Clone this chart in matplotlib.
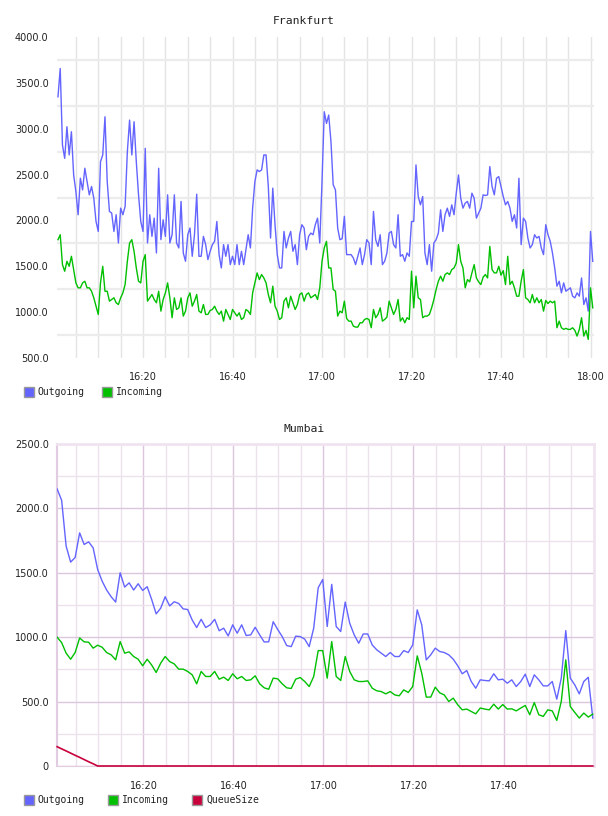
import matplotlib
matplotlib.use("Agg")
import matplotlib.pyplot as plt
from matplotlib.patches import Rectangle
import numpy as np

# ---------------- data ----------------
# time axis: minutes after 16:00
fra_start, fra_step = 1.0, 0.5          # Frankfurt samples every 30 s
mum_start, mum_step = 0.83, 1.0         # Mumbai samples every minute

fra_outgoing = [
    3348, 3656, 2822, 2677, 3022, 2714, 2967, 2496, 2315, 2062,
    2460, 2333, 2569, 2424, 2279, 2370, 2243, 1989, 1880, 2641,
    2714, 3130, 2424, 2098, 2080, 1880, 2062, 1754, 2134, 2062,
    2152, 2750, 3094, 2714, 3076, 2641, 2279, 1989, 1880, 2786,
    1754, 2062, 1826, 2025, 1645, 2569, 1790, 2007, 1826, 2279,
    1754, 1844, 2279, 1754, 1700, 2207, 1645, 1555, 1844, 1917,
    1609, 1844, 2286, 1609, 1609, 1826, 1736, 1573, 1663, 1736,
    1772, 1989, 1627, 1482, 1736, 1609, 1736, 1518, 1609, 1518,
    1736, 1518, 1663, 1518, 1681, 1844, 1700, 2134, 2424, 2551,
    2533, 2551, 2714, 2714, 2370, 1808, 2352, 1953, 1627, 1482,
    1482, 1880, 1700, 1808, 1880, 1663, 1736, 1518, 1844, 1953,
    1917, 1681, 1826, 1862, 1844, 1953, 2025, 1754, 2424, 3185,
    3058, 3149, 2859, 2388, 2333, 1917, 1790, 1800, 2044, 1627,
    1627, 1627, 1591, 1518, 1609, 1700, 1518, 1627, 1790, 1754,
    1518, 2098, 1790, 1717, 1844, 1518, 1555, 1645, 1862, 1880,
    1736, 1700, 2062, 1609, 1627, 1555, 1645, 1609, 1989, 1989,
    2605, 2261, 2170, 2261, 1645, 1518, 1736, 1446, 1754, 1790,
    1862, 2116, 1880, 2062, 2134, 2044, 2170, 2062, 2297, 2496,
    2243, 2134, 2189, 2207, 2134, 2297, 2243, 2025, 2080, 2134,
    2279, 2272, 2279, 2587, 2370, 2279, 2460, 2478, 2370, 2261,
    2170, 2207, 2134, 1989, 2062, 1917, 2460, 1736, 2025, 1989,
    1808, 1700, 1736, 1844, 1808, 1826, 1700, 1627, 1953, 1844,
    1772, 1645, 1482, 1283, 1337, 1210, 1319, 1228, 1247, 1265,
    1174, 1156, 1210, 1174, 1373, 1083, 1156, 1011, 1880, 1554,
]
fra_incoming = [
    1790, 1844, 1518, 1446, 1554, 1500, 1609, 1464, 1319, 1265,
    1265, 1319, 1337, 1265, 1265, 1228, 1156, 1065, 975, 1319,
    1500, 1228, 1228, 1120, 1138, 1156, 1102, 1083, 1156, 1210,
    1301, 1554, 1754, 1790, 1663, 1482, 1337, 1319, 1554, 1627,
    1120, 1156, 1192, 1138, 1102, 1228, 1011, 1138, 1210, 1319,
    1156, 939, 1156, 1029, 1047, 1156, 957, 1011, 1156, 1210,
    1065, 1120, 1192, 1011, 993, 1083, 975, 975, 1018, 1029,
    1065, 1011, 975, 1011, 902, 1029, 975, 920, 1029, 993,
    957, 993, 920, 939, 1029, 1011, 975, 1210, 1319, 1428,
    1355, 1410, 1373, 1319, 1192, 1102, 1283, 1065, 1011, 920,
    939, 1120, 1156, 1047, 1174, 1102, 1029, 1083, 1192, 1210,
    1120, 1192, 1210, 1156, 1174, 1192, 1138, 1265, 1554, 1700,
    1772, 1482, 1482, 1247, 1228, 957, 1011, 993, 1120, 931,
    902, 902, 848, 837, 837, 884, 884, 920, 931, 920,
    830, 1029, 939, 975, 1047, 902, 920, 945, 1120, 1047,
    975, 1029, 1138, 902, 939, 884, 939, 920, 1446, 1047,
    1392, 1156, 1138, 939, 957, 957, 975, 1047, 1138, 1247,
    1337, 1392, 1337, 1410, 1428, 1410, 1464, 1482, 1536, 1736,
    1554, 1482, 1265, 1355, 1330, 1428, 1518, 1373, 1330, 1301,
    1381, 1410, 1373, 1717, 1464, 1428, 1428, 1500, 1403, 1453,
    1301, 1609, 1301, 1337, 1265, 1174, 1174, 1337, 1464, 1156,
    1138, 1102, 1192, 1102, 1156, 1102, 1138, 1011, 1127, 1094,
    1120, 1102, 1120, 830, 902, 830, 812, 823, 812, 812,
    830, 801, 739, 812, 939, 739, 801, 703, 1265, 1047,
]

mum_outgoing = [
    2151, 2063, 1707, 1583, 1619, 1810, 1720, 1740, 1694, 1526,
    1435, 1366, 1314, 1273, 1500, 1389, 1422, 1366, 1415, 1363,
    1392, 1293, 1181, 1225, 1314, 1243, 1275, 1262, 1220, 1215,
    1134, 1075, 1139, 1075, 1096, 1139, 1050, 1070, 1010, 1096,
    1031, 1096, 1013, 1018, 1077, 1018, 963, 964, 1120, 1060,
    1005, 935, 927, 1008, 1005, 985, 927, 1070, 1384, 1448,
    1083, 1410, 1083, 1044, 1273, 1108, 1018, 953, 1025, 1025,
    940, 902, 876, 850, 881, 850, 850, 896, 881, 940,
    1212, 1096, 824, 863, 915, 889, 881, 863, 829, 778,
    716, 741, 656, 604, 669, 664, 661, 716, 669, 674,
    643, 669, 617, 656, 713, 617, 708, 669, 622, 622,
    656, 519, 682, 1051, 682, 630, 560, 656, 689, 372,
]
mum_incoming = [
    1000, 958, 876, 829, 881, 994, 964, 961, 915, 938,
    922, 881, 863, 824, 966, 876, 886, 850, 829, 778,
    829, 784, 726, 798, 850, 811, 793, 752, 752, 734,
    708, 638, 734, 695, 695, 734, 674, 690, 664, 716,
    677, 695, 664, 669, 700, 638, 607, 596, 682, 677,
    638, 607, 602, 674, 687, 656, 617, 695, 896, 896,
    682, 966, 695, 664, 850, 734, 669, 656, 656, 661,
    604, 584, 578, 560, 578, 552, 545, 591, 571, 617,
    855, 721, 535, 535, 612, 568, 552, 501, 527, 475,
    436, 442, 423, 405, 450, 442, 436, 480, 442, 477,
    442, 444, 428, 450, 470, 398, 493, 398, 385, 436,
    428, 354, 501, 824, 462, 416, 372, 411, 380, 403,
]
mum_queue = [150, 133, 117, 100, 83, 67, 50, 33, 17, 0] + [0] * 110

x_tick_minutes = [20, 40, 60, 80, 100, 120]
x_tick_labels = ["16:20", "16:40", "17:00", "17:20", "17:40", "18:00"]

series_names = ["Outgoing", "Incoming", "QueueSize"]
colors = {"Outgoing": "#6464ff", "Incoming": "#00c000", "QueueSize": "#c8003c"}

fra_t = fra_start + fra_step * np.arange(len(fra_outgoing))
mum_t = mum_start + mum_step * np.arange(len(mum_outgoing))

# ---------------- figure ----------------
W, H = 608, 816
fig = plt.figure(figsize=(W / 100, H / 100), dpi=100)
fig.patch.set_facecolor("white")

def fx(px):
    return px / W

def fy(py):
    return 1 - py / H

tick_font = dict(family="DejaVu Sans", size=7)
mono = "DejaVu Sans Mono"

# ---- Frankfurt ----
ax1 = fig.add_axes([fx(57), fy(358), fx(594 - 57), (358 - 37) / H])
ax1.plot(fra_t, fra_outgoing, color=colors["Outgoing"], lw=1.0, zorder=3)
ax1.plot(fra_t, fra_incoming, color=colors["Incoming"], lw=1.0, zorder=3)
ax1.set_xlim(0.78, 120.78)
ax1.set_ylim(500, 4000)
yt1 = np.arange(500, 4001, 500)
ax1.set_yticks(yt1)
ax1.set_yticklabels([f"{v:.1f}" for v in yt1], **tick_font)
ax1.set_yticks(np.arange(750, 4000, 500), minor=True)
ax1.set_xticks(x_tick_minutes)
ax1.set_xticklabels(x_tick_labels, **tick_font)
ax1.set_xticks(np.arange(5, 121, 5), minor=True)
ax1.grid(False)
ax1.grid(True, which="minor", axis="y", color="#ececec", lw=1.6)
ax1.grid(True, which="both", axis="x", color="#e4e4e4", lw=1.0)
for s in ax1.spines.values():
    s.set_visible(False)
ax1.tick_params(which="both", length=0)
ax1.tick_params(axis="y", pad=6, colors="#222222")
ax1.tick_params(axis="x", pad=10, colors="#222222")
ax1.set_axisbelow(True)
fig.text(0.5, fy(20.5), "Frankfurt", ha="center", va="center",
         family=mono, size=8.2, color="#222222")

# ---- Mumbai ----
ax2 = fig.add_axes([fx(57), fy(766), fx(594 - 57), (766 - 444) / H])
ax2.plot(mum_t, mum_outgoing, color=colors["Outgoing"], lw=1.0, zorder=3)
ax2.plot(mum_t, mum_incoming, color=colors["Incoming"], lw=1.0, zorder=3)
ax2.plot(mum_t, mum_queue, color=colors["QueueSize"], lw=1.2, zorder=4, clip_on=False)
ax2.set_xlim(0.8, 120.1)
ax2.set_ylim(0, 2500)
yt2 = np.arange(0, 2501, 500)
ax2.set_yticks(yt2)
ax2.set_yticklabels(["0" if v == 0 else f"{v:.1f}" for v in yt2], **tick_font)
ax2.set_yticks(np.arange(250, 2500, 500), minor=True)
ax2.set_xticks(x_tick_minutes[:-1])
ax2.set_xticklabels(x_tick_labels[:-1], **tick_font)
ax2.set_xticks(np.arange(5, 120, 5), minor=True)
ax2.grid(True, which="major", color="#dcc6dc", lw=1.0)
ax2.grid(True, which="minor", color="#ebe2eb", lw=1.0)
ax2.spines["left"].set_color("#e2cce2")
ax2.spines["left"].set_linewidth(1.5)
ax2.spines["top"].set_color("#f0e4f0")
ax2.spines["top"].set_linewidth(2)
ax2.spines["right"].set_color("#f0e4f0")
ax2.spines["right"].set_linewidth(2)
ax2.spines["bottom"].set_color("#e2cce2")
ax2.tick_params(which="both", length=0)
ax2.tick_params(axis="y", pad=6, colors="#222222")
ax2.tick_params(axis="x", pad=11, colors="#222222")
ax2.set_axisbelow(True)
fig.text(0.5, fy(428.5), "Mumbai", ha="center", va="center",
         family=mono, size=8.2, color="#222222")

# ---- legends ----
def legend(names, xs, yc):
    for name, x in zip(names, xs):
        fig.add_artist(Rectangle((fx(x), fy(yc + 5)), 10 / W, 10 / H,
                                 transform=fig.transFigure,
                                 facecolor=colors[name], edgecolor="#999999",
                                 lw=1.0))
        fig.text(fx(x + 14), fy(yc), name, ha="left", va="center",
                 family=mono, size=7, color="#222222")

legend(series_names[:2], [24, 102], 392)
legend(series_names, [24, 108, 192], 800)

fig.savefig("out.png", dpi=100, facecolor="white")
